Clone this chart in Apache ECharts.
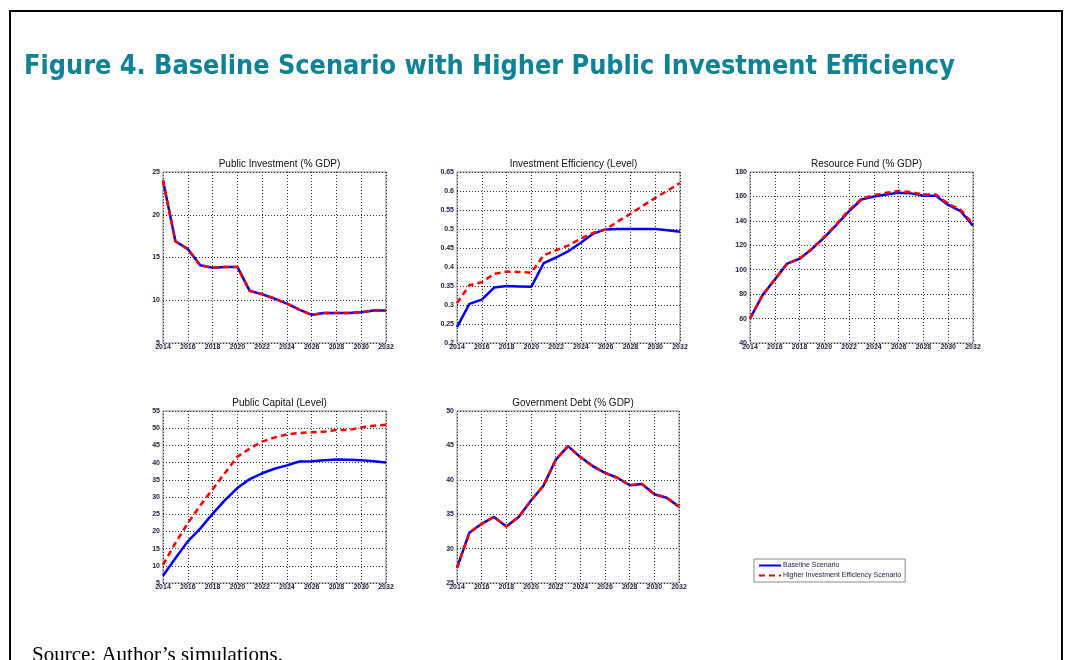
<!DOCTYPE html>
<html>
<head>
<meta charset="utf-8">
<script src="https://cdn.jsdelivr.net/npm/echarts@6/dist/echarts.min.js"></script>
<style>
  html, body { margin: 0; padding: 0; background: #fff; }
  #main { width: 1068px; height: 660px; }
</style>
</head>
<body>
<div id="main"></div>
<script>
// years 2014..2032
const years = [2014,2015,2016,2017,2018,2019,2020,2021,2022,2023,2024,2025,2026,2027,2028,2029,2030,2031,2032]

const invBase = [24.0,16.9,16.0,14.1,13.8,13.9,13.9,11.1,10.7,10.2,9.6,8.9,8.3,8.5,8.5,8.5,8.6,8.8,8.8]
const invHigh = [24.0,16.9,16.0,14.1,13.8,13.9,13.9,11.1,10.7,10.2,9.6,8.9,8.3,8.5,8.5,8.5,8.6,8.8,8.8]

const effBase = [0.242,0.303,0.314,0.346,0.350,0.349,0.348,0.410,0.425,0.442,0.464,0.488,0.499,0.500,0.500,0.500,0.500,0.497,0.493]
const effHigh = [0.305,0.352,0.360,0.382,0.388,0.387,0.385,0.431,0.444,0.457,0.475,0.490,0.499,0.520,0.540,0.561,0.582,0.601,0.621]

const fundBase = [60,79,92,105,109,117,126.5,137,148,157.5,160,161.5,163,162.5,160.5,160.5,153,148,136]
const fundHigh = [60,79,92,105,109,117,127,137.5,149,158,161,163,164.5,163.5,161.5,161.5,154,149,137.5]

const capBase = [7.1,12.2,17.1,20.8,25.1,29.1,32.6,35.2,36.9,38.2,39.2,40.3,40.4,40.7,40.9,40.8,40.7,40.4,40.0]
const capHigh = [10.3,16.6,22.4,27.5,32.2,37.0,41.7,44.1,46.1,47.3,48.2,48.6,48.8,49.0,49.5,49.5,50.2,50.7,51.0]

const debtBase = [27.2,32.3,33.6,34.6,33.2,34.6,37.0,39.1,42.9,44.9,43.3,42.0,41.0,40.3,39.2,39.4,37.9,37.4,36.1]
const debtHigh = [27.2,32.3,33.6,34.6,33.2,34.6,37.0,39.1,42.9,44.9,43.3,42.0,41.0,40.3,39.2,39.4,37.9,37.4,36.1]

const panelTitles = ['Public Investment (% GDP)', 'Investment Efficiency (Level)', 'Resource Fund (% GDP)', 'Public Capital (Level)', 'Government Debt (% GDP)']
const yRanges = [[5,25,5],[0.2,0.65,0.05],[40,180,20],[5,55,5],[25,50,5]]
const baseSets = [invBase, effBase, fundBase, capBase, debtBase]
const highSets = [invHigh, effHigh, fundHigh, capHigh, debtHigh]

const BASE = 'Baseline Scenario'
const HIGH = 'Higher Investment Efficiency Scenario'

const grids = [
  { left: 163, top: 172, width: 223, height: 171 },
  { left: 457, top: 172, width: 223, height: 171 },
  { left: 750, top: 172, width: 223, height: 171 },
  { left: 163, top: 411, width: 223, height: 172 },
  { left: 457, top: 411, width: 222, height: 172 }
]

const labelColor = '#1c1c3c'
const gridLine = { show: true, lineStyle: { color: '#333', type: [1, 2], width: 1 } }

let xAxes = [], yAxes = [], series = [], titles = []
grids.forEach((g, i) => {
  g.show = true
  g.borderColor = '#8a8a8a'
  g.borderWidth = 1
  g.backgroundColor = '#fff'
  xAxes.push({
    type: 'value', gridIndex: i, min: 2014, max: 2032, interval: 2,
    axisLine: { show: false }, axisTick: { show: false },
    splitLine: gridLine,
    axisLabel: { fontSize: 7, color: labelColor, margin: 1, fontWeight: 'bold', fontFamily: 'Liberation Sans',
      formatter: v => String(v) }
  })
  yAxes.push({
    type: 'value', gridIndex: i, min: yRanges[i][0], max: yRanges[i][1], interval: yRanges[i][2],
    axisLine: { show: false }, axisTick: { show: false },
    splitLine: gridLine,
    axisLabel: {
      fontSize: 7, color: labelColor, margin: 3, fontWeight: 'bold', fontFamily: 'Liberation Sans',
      formatter: v => String(+v.toFixed(2))
    }
  })
  series.push({
    name: BASE, type: 'line', xAxisIndex: i, yAxisIndex: i, symbol: 'none',
    data: years.map((y, k) => [y, baseSets[i][k]]),
    lineStyle: { color: '#0000ff', width: 2.5 }, itemStyle: { color: '#0000ff' }
  })
  series.push({
    name: HIGH, type: 'line', xAxisIndex: i, yAxisIndex: i, symbol: 'none',
    data: years.map((y, k) => [y, highSets[i][k]]),
    lineStyle: { color: '#ff0000', width: 2.5, type: [6, 4] }, itemStyle: { color: '#ff0000' }
  })
  titles.push({
    text: panelTitles[i], left: g.left + g.width / 2, top: g.top - 18, textAlign: 'center',
    textStyle: { fontSize: 10, fontWeight: 'normal', color: '#111', fontFamily: 'Liberation Sans' }
  })
})

const myChart = echarts.init(document.getElementById('main'), null, { renderer: 'canvas' })
myChart.setOption({
  animation: false,
  title: titles,
  grid: grids,
  xAxis: xAxes,
  yAxis: yAxes,
  series: series,
  legend: {
    data: [BASE, HIGH],
    orient: 'vertical', left: 754, top: 559,
    width: 152, itemWidth: 22, itemHeight: 6, itemGap: 3,
    padding: [3, 4, 3, 4],
    itemStyle: { opacity: 0 },
    borderColor: '#8a8a8a', borderWidth: 1, backgroundColor: '#fff',
    textStyle: { fontSize: 7, color: '#1c1c3c', padding: [0, 0, 0, -3], fontFamily: 'Liberation Sans' }
  },
  graphic: [
    { type: 'polyline', shape: { points: [[10, 660], [10, 11], [1062, 11], [1062, 660]] },
      style: { stroke: '#000', lineWidth: 2, fill: null } },
    { type: 'text', left: 24, top: 54,
      style: { text: 'Figure 4. Baseline Scenario with Higher Public Investment Efficiency',
        font: 'bold 26.8px "DejaVu Sans Condensed", sans-serif', fill: '#0e8296' } },
    { type: 'text', left: 32, top: 645,
      style: { text: 'Source: Author\u2019s simulations.', font: '21px "Liberation Serif", serif', fill: '#000' } }
  ]
})
</script>
</body>
</html>
